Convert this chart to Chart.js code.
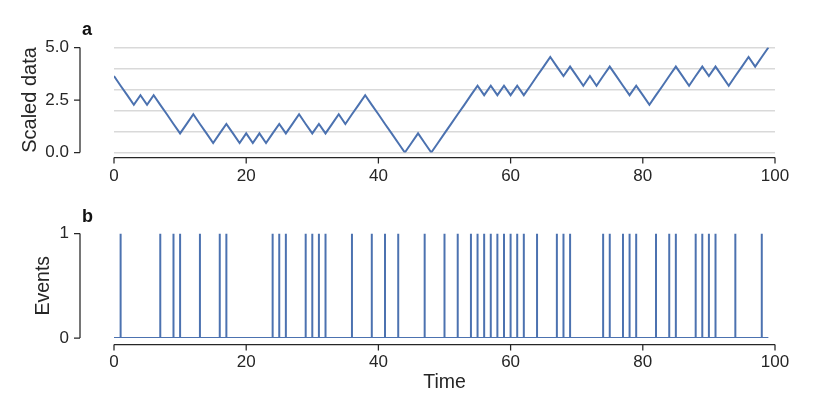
<!DOCTYPE html>
<html>
<head>
<meta charset="utf-8">
<script src="https://cdn.jsdelivr.net/npm/chart.js@4/dist/chart.umd.min.js"></script>
<style>
  html, body { margin: 0; padding: 0; background: #fff; }
  #wrap { position: relative; width: 830px; height: 415px; }
  canvas { position: absolute; left: 0; }
</style>
</head>
<body>
<div id="wrap">
  <canvas id="top" width="830" height="200" style="top:0"></canvas>
  <canvas id="bottom" width="830" height="215" style="top:200px"></canvas>
</div>
<script>
// time steps 0..99
var times = Array.from({length: 100}, (_, i) => i);

// panel a: scaled random walk
var scaledData = [
  3.64, 3.18, 2.73, 2.27, 2.73, 2.27, 2.73, 2.27, 1.82, 1.36,
  0.91, 1.36, 1.82, 1.36, 0.91, 0.45, 0.91, 1.36, 0.91, 0.45,
  0.91, 0.45, 0.91, 0.45, 0.91, 1.36, 0.91, 1.36, 1.82, 1.36,
  0.91, 1.36, 0.91, 1.36, 1.82, 1.36, 1.82, 2.27, 2.73, 2.27,
  1.82, 1.36, 0.91, 0.45, 0.00, 0.45, 0.91, 0.45, 0.00, 0.45,
  0.91, 1.36, 1.82, 2.27, 2.73, 3.18, 2.73, 3.18, 2.73, 3.18,
  2.73, 3.18, 2.73, 3.18, 3.64, 4.09, 4.55, 4.09, 3.64, 4.09,
  3.64, 3.18, 3.64, 3.18, 3.64, 4.09, 3.64, 3.18, 2.73, 3.18,
  2.73, 2.27, 2.73, 3.18, 3.64, 4.09, 3.64, 3.18, 3.64, 4.09,
  3.64, 4.09, 3.64, 3.18, 3.64, 4.09, 4.55, 4.09, 4.55, 5.00
];

// panel b: times at which an event happened
var eventTimes = [1, 7, 9, 10, 13, 16, 17, 24, 25, 26, 29, 30, 31, 32, 36, 39, 41, 43,
  47, 50, 52, 54, 55, 56, 57, 58, 59, 60, 61, 62, 64, 67, 68, 69, 74, 75, 77, 78, 79,
  82, 84, 85, 88, 89, 90, 91, 94, 98];

var xTicks = [0, 20, 40, 60, 80, 100];
var scaledTicks = [0, 2.5, 5];
var scaledGrid = [0, 1, 2, 3, 4, 5];
var eventTicks = [0, 1];

var blue = '#4c72b0';
var spineColor = '#262626';
var fontFamily = '"Liberation Sans", Arial, Helvetica, sans-serif';
Chart.defaults.font.family = fontFamily;
Chart.defaults.color = '#262626';

// draw detached spines with tick marks, plus the panel letter
var spines = {
  id: 'spines',
  afterDraw(chart, args, opts) {
    var ctx = chart.ctx;
    var xs = chart.scales.x, ys = chart.scales.y;
    ctx.save();
    ctx.strokeStyle = spineColor;
    ctx.lineWidth = 1.25;
    ctx.beginPath();
    // y spine
    var yTop = ys.getPixelForValue(opts.yTicks[opts.yTicks.length - 1]);
    var yBot = ys.getPixelForValue(opts.yTicks[0]);
    ctx.moveTo(opts.spineX, yTop);
    ctx.lineTo(opts.spineX, yBot);
    opts.yTicks.forEach(function (v) {
      var p = ys.getPixelForValue(v);
      ctx.moveTo(opts.spineX - 6, p);
      ctx.lineTo(opts.spineX, p);
    });
    // x spine
    var xL = xs.getPixelForValue(xTicks[0]);
    var xR = xs.getPixelForValue(xTicks[xTicks.length - 1]);
    ctx.moveTo(xL, opts.spineY);
    ctx.lineTo(xR, opts.spineY);
    xTicks.forEach(function (v) {
      var p = xs.getPixelForValue(v);
      ctx.moveTo(p, opts.spineY);
      ctx.lineTo(p, opts.spineY + 6);
    });
    ctx.stroke();
    ctx.fillStyle = '#111';
    ctx.font = 'bold 18px ' + fontFamily;
    ctx.textBaseline = 'alphabetic';
    ctx.fillText(opts.letter, 82, opts.letterY);
    ctx.restore();
  }
};

function noPad(s) {
  s.paddingTop = 0; s.paddingBottom = 0; s.paddingLeft = 0; s.paddingRight = 0;
}

function xScale(showTitle, height) {
  return {
    type: 'linear', min: 0, max: 100,
    afterBuildTicks: function (s) { s.ticks = xTicks.map(v => ({value: v})); },
    afterFit: function (s) { s.height = height; noPad(s); },
    ticks: { font: {size: 17}, padding: 14, maxRotation: 0 },
    grid: { display: false, drawTicks: false },
    border: { display: false },
    title: showTitle ? { display: true, text: 'Time', font: {size: 19.5}, padding: {top: 0, bottom: 21} } : { display: false }
  };
}

// panel a
new Chart(document.getElementById('top'), {
  type: 'line',
  data: {
    datasets: [{
      data: times.map((t, i) => ({x: t, y: scaledData[i]})),
      borderColor: blue,
      borderWidth: 2,
      pointRadius: 0,
      tension: 0
    }]
  },
  options: {
    responsive: false,
    animation: false,
    layout: { padding: {left: 0, right: 55, top: 47.5, bottom: 0} },
    plugins: {
      legend: {display: false},
      tooltip: {enabled: false},
      spines: { yTicks: scaledTicks, spineX: 80, spineY: 157.5, letter: 'a', letterY: 35 }
    },
    scales: {
      x: xScale(false, 200 - 152.5),
      y: {
        min: 0, max: 5,
        afterBuildTicks: function (s) {
          var vals = scaledGrid.concat([2.5]).sort((a, b) => a - b);
          s.ticks = vals.map(v => ({value: v}));
        },
        afterFit: function (s) { s.width = 114; noPad(s); },
        ticks: {
          font: {size: 17}, padding: 45, autoSkip: false,
          callback: function (v) { return scaledTicks.indexOf(v) >= 0 ? v.toFixed(1) : ''; }
        },
        grid: {
          drawTicks: false,
          lineWidth: 1.5,
          color: function (c) { return scaledGrid.indexOf(c.tick.value) >= 0 ? '#d9d9d9' : 'rgba(0,0,0,0)'; }
        },
        border: { display: false },
        title: { display: true, text: 'Scaled data', font: {size: 20}, padding: {top: 18, bottom: 0} }
      }
    }
  },
  plugins: [spines]
});

// panel b: each event is a vertical stroke from 0 up to 1 and back
var eventTrace = [];
times.forEach(function (t) {
  eventTrace.push({x: t, y: 0});
  if (eventTimes.indexOf(t) >= 0) {
    eventTrace.push({x: t, y: 1});
    eventTrace.push({x: t, y: 0});
  }
});

new Chart(document.getElementById('bottom'), {
  type: 'line',
  data: {
    datasets: [{
      data: eventTrace,
      borderColor: blue,
      borderWidth: 2,
      pointRadius: 0,
      tension: 0
    }]
  },
  options: {
    responsive: false,
    animation: false,
    layout: { padding: {left: 0, right: 55, top: 33.5, bottom: 0} },
    plugins: {
      legend: {display: false},
      tooltip: {enabled: false},
      spines: { yTicks: eventTicks, spineX: 80, spineY: 144.5, letter: 'b', letterY: 21.5 }
    },
    scales: {
      x: xScale(true, 215 - 138),
      y: {
        min: 0, max: 1,
        afterBuildTicks: function (s) { s.ticks = eventTicks.map(v => ({value: v})); },
        afterFit: function (s) { s.width = 114; noPad(s); },
        ticks: { font: {size: 17}, padding: 45 },
        grid: { display: false, drawTicks: false },
        border: { display: false },
        title: { display: true, text: 'Events', font: {size: 19.5}, padding: {top: 32, bottom: 0} }
      }
    }
  },
  plugins: [spines]
});
</script>
</body>
</html>
